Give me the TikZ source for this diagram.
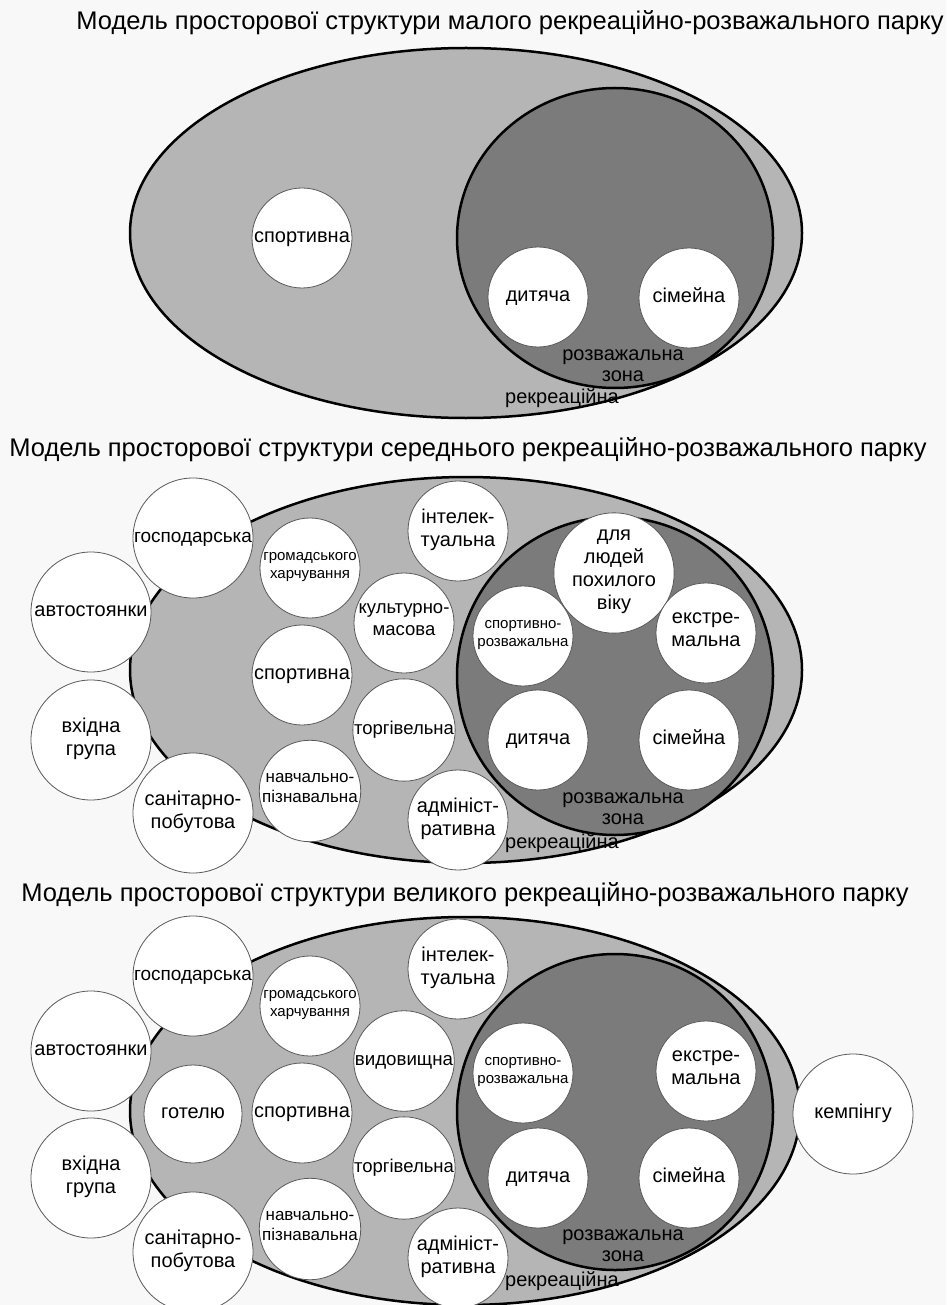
\documentclass[tikz,border=0pt]{standalone}
\usepackage{fontspec}
\setmainfont{Liberation Sans}
\usetikzlibrary{shapes.geometric}
\definecolor{bg}{HTML}{F8F8F8}
\definecolor{rekr}{HTML}{B5B5B5}
\definecolor{rozv}{HTML}{7B7B7B}

\begin{document}
\begin{tikzpicture}[x=1pt, y=-1pt,
	park/.style={draw, ellipse, line width=2.5pt, fill=rekr, inner sep=0},
	rzone/.style={draw, ellipse, line width=2.5pt, fill=rozv, inner sep=0},
	zone/.style={draw=black!65, line width=0.8pt, circle, fill=white, minimum size=100, inner sep=0, align=center, font=\fontsize{20}{23}\selectfont, execute at begin node=\strut, execute at end node=\strut},
	outer/.style={zone, minimum size=120},
	small/.style={font=\fontsize{15}{18}\selectfont},
	lbl/.style={inner sep=0, align=center, font=\fontsize{20}{21}\selectfont},
	ttl/.style={inner sep=0, font=\fontsize{25.5}{28}\selectfont}]
				\clip (0, 0) rectangle (946, 1305);
				\fill[bg] (0, 0) rectangle (946, 1305);
				% малий парк
				\node[ttl] (T1)at(510, 23) {Модель просторової структури малого рекреаційно-розважального парку};
				\node[park, minimum width=672, minimum height=370] (P1)at(466, 233) {};
				\node[rzone, minimum width=316, minimum height=300] (R1)at(615, 238) {};
				\node[zone] (S1)at(302, 238) {спортивна};
				\node[zone] (D1)at(538, 297) {дитяча};
				\node[zone] (F1)at(689, 298) {сімейна};
				\node[lbl] (RL1)at(623, 366) {розважальна\\зона};
				\node[lbl] (KL1)at(562, 398) {рекреаційна};
				% середній парк
				\node[ttl] (T2)at(468, 450) {Модель просторової структури середнього рекреаційно-розважального парку};
				\node[park, minimum width=672, minimum height=386] (P2)at(466, 670) {};
				\node[rzone, minimum width=316, minimum height=318] (R2)at(615, 676) {};
				\node[outer, font=\fontsize{19}{22}\selectfont] (G2)at(193, 538) {господарська};
				\node[outer] (A2)at(91, 612) {автостоянки};
				\node[outer] (V2)at(91, 740) {вхідна\\група};
				\node[outer] (SP2)at(193, 813) {санітарно-\\побутова};
				\node[zone, small] (H2)at(310, 568) {громадського\\харчування};
				\node[zone] (S2)at(302, 675) {спортивна};
				\node[zone, font=\fontsize{17}{20}\selectfont] (N2)at(310, 791) {навчально-\\пізнавальна};
				\node[zone] (I2)at(458, 531) {інтелек-\\туальна};
				\node[zone, font=\fontsize{18.5}{22}\selectfont] (K2)at(404, 623) {культурно-\\масова};
				\node[zone, font=\fontsize{18.5}{22}\selectfont] (TR2)at(404, 730) {торгівельна};
				\node[zone] (AD2)at(458, 820) {адмініст-\\ративна};
				\node[zone] (L2)at(614, 573) {для\\людей\\похилого\\віку};
				\node[zone, small] (SR2)at(523, 636) {спортивно-\\розважальна};
				\node[zone] (E2)at(706, 633) {екстре-\\мальна};
				\node[zone] (D2)at(538, 740) {дитяча};
				\node[zone] (F2)at(689, 740) {сімейна};
				\node[lbl] (RL2)at(623, 809) {розважальна\\зона};
				\node[lbl] (KL2)at(562, 843) {рекреаційна};
				% великий парк
				\node[ttl] (T3)at(465, 895) {Модель просторової структури великого рекреаційно-розважального парку};
				\node[park, minimum width=670, minimum height=388] (P3)at(465, 1111) {};
				\node[rzone, minimum width=316, minimum height=316] (R3)at(615, 1112) {};
				\node[outer, font=\fontsize{19}{22}\selectfont] (G3)at(193, 976) {господарська};
				\node[outer] (A3)at(91, 1051) {автостоянки};
				\node[outer] (V3)at(91, 1178) {вхідна\\група};
				\node[outer] (SP3)at(193, 1252) {санітарно-\\побутова};
				\node[zone, minimum size=98] (HT3)at(193, 1114) {готелю};
				\node[zone, small] (H3)at(310, 1006) {громадського\\харчування};
				\node[zone] (S3)at(302, 1113) {спортивна};
				\node[zone, font=\fontsize{17}{20}\selectfont] (N3)at(310, 1229) {навчально-\\пізнавальна};
				\node[zone] (I3)at(458, 969) {інтелек-\\туальна};
				\node[zone, font=\fontsize{18.7}{22}\selectfont] (VD3)at(404, 1061) {видовищна};
				\node[zone, font=\fontsize{18.5}{22}\selectfont] (TR3)at(404, 1168) {торгівельна};
				\node[zone] (AD3)at(458, 1258) {адмініст-\\ративна};
				\node[zone, small] (SR3)at(523, 1073) {спортивно-\\розважальна};
				\node[zone] (E3)at(706, 1071) {екстре-\\мальна};
				\node[zone] (D3)at(538, 1178) {дитяча};
				\node[zone] (F3)at(689, 1178) {сімейна};
				\node[outer] (KM3)at(853, 1114) {кемпінгу};
				\node[lbl] (RL3)at(623, 1246) {розважальна\\зона};
				\node[lbl] (KL3)at(562, 1281) {рекреаційна};
			\end{tikzpicture}
\end{document}
